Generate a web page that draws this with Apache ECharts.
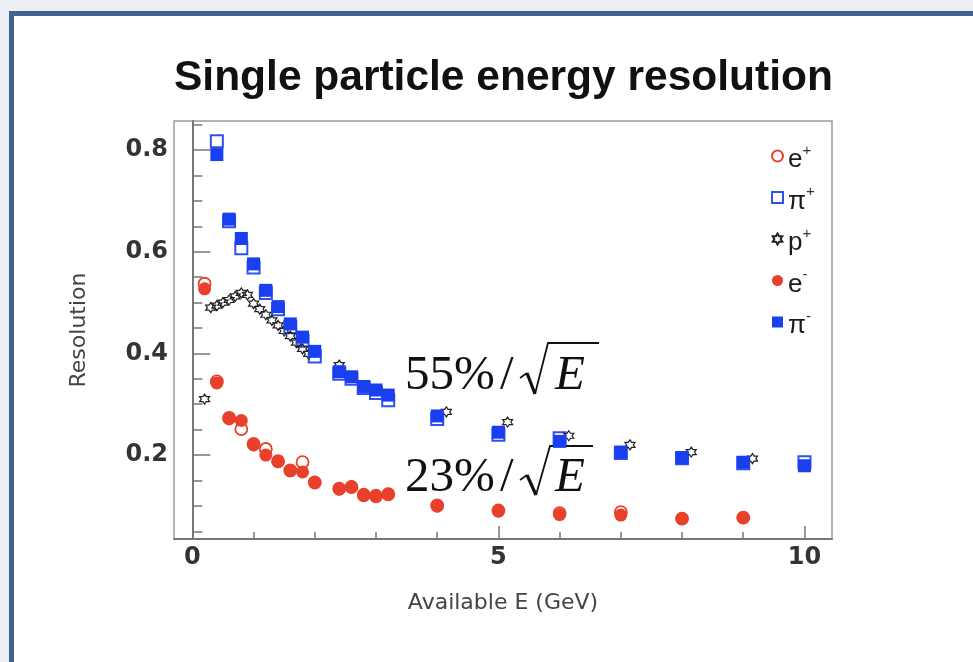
<!DOCTYPE html>
<html>
<head>
<meta charset="utf-8">
<script src="https://cdn.jsdelivr.net/npm/echarts@6/dist/echarts.min.js"></script>
<style>
  html, body { margin:0; padding:0; width:973px; height:662px; overflow:hidden; background:#eceef4; }
  #frame { position:absolute; left:9px; top:11px; width:1000px; height:700px; background:#fff;
           border-left:5px solid #41638f; border-top:5px solid #41638f; }
  #chart { position:absolute; left:0; top:0; width:973px; height:662px; }
</style>
</head>
<body>
<div id="frame"></div>
<div id="chart"></div>
<script>
// ---- data ----
const titleText = 'Single particle energy resolution';
const xAxisName = 'Available E (GeV)';
const yAxisName = 'Resolution';
const xTickLabels = [0, 5, 10];
const xMinorTicks = [1, 2, 3, 4, 6, 7, 8, 9];
const yTickLabels = [0.2, 0.4, 0.6, 0.8];
const yMinorTicks = [0.05, 0.1, 0.15, 0.25, 0.3, 0.35, 0.45, 0.5, 0.55, 0.65, 0.7, 0.75, 0.85];

const eX = [0.2, 0.4, 0.6, 0.8, 1.0, 1.2, 1.4, 1.6, 1.8, 2.0, 2.4, 2.6, 2.8, 3.0, 3.2, 4, 5, 6, 7, 8, 9];
const ePlusY  = [0.537, 0.345, 0.272, 0.251, 0.222, 0.212, 0.188, 0.170, 0.186, 0.146, 0.134, 0.137, 0.121, 0.119, 0.123, 0.101, 0.091, 0.086, 0.088, 0.075, 0.077];
const eMinusY = [0.527, 0.342, 0.274, 0.268, 0.220, 0.200, 0.187, 0.169, 0.167, 0.147, 0.133, 0.138, 0.123, 0.121, 0.123, 0.0995, 0.090, 0.083, 0.082, 0.075, 0.077];

const piX = [0.4, 0.6, 0.8, 1.0, 1.2, 1.4, 1.6, 1.8, 2.0, 2.4, 2.6, 2.8, 3.0, 3.2, 4, 5, 6, 7, 8, 9, 10];
const piPlusY  = [0.817, 0.660, 0.607, 0.569, 0.519, 0.487, 0.452, 0.425, 0.394, 0.360, 0.350, 0.332, 0.322, 0.308, 0.271, 0.240, 0.233, 0.204, 0.194, 0.184, 0.186];
const piMinusY = [0.791, 0.664, 0.626, 0.576, 0.524, 0.492, 0.458, 0.432, 0.404, 0.364, 0.354, 0.335, 0.328, 0.318, 0.277, 0.245, 0.227, 0.206, 0.195, 0.186, 0.179];

const pX = [0.2, 0.3, 0.4, 0.5, 0.6, 0.7, 0.8, 0.9, 1.0, 1.1, 1.2, 1.3, 1.4, 1.5, 1.6, 1.7, 1.8, 1.9, 2.4, 4.15, 5.15, 6.15, 7.15, 8.15, 9.15];
const pPlusY = [0.310, 0.490, 0.494, 0.500, 0.505, 0.512, 0.519, 0.515, 0.498, 0.487, 0.476, 0.465, 0.455, 0.444, 0.434, 0.421, 0.409, 0.399, 0.377, 0.285, 0.265, 0.238, 0.220, 0.206, 0.193];

const seriesNames = ['e+', 'π+', 'p+', 'e-', 'π-'];
const legendBase = ['e', 'π', 'p', 'e', 'π'];
const legendSup  = ['+', '+', '+', '-', '-'];

// ---- build ----
const zip = (xs, ys) => xs.map((x, i) => [x, ys[i]]);
const RED = '#e8402a', BLUE = '#1a3ff0';
const starPath = 'path://M10 0 L12.89 5 L18.66 5 L15.77 10 L18.66 15 L12.89 15 L10 20 L7.11 15 L1.34 15 L4.23 10 L1.34 5 L7.11 5 Z';

const chart = echarts.init(document.getElementById('chart'), null, { renderer: 'canvas' });

const axisLabelFont = { fontFamily: 'DejaVu Sans', fontWeight: 'bold', fontSize: 24, color: '#333' };
const X_MIN = -0.3, X_MAX = 10.45, Y_MIN = 0.035, Y_MAX = 0.857;

const option = {
  animation: false,
  backgroundColor: 'transparent',
  title: {
    text: titleText, left: 169, top: 52,
    textStyle: { fontFamily: 'Liberation Sans', fontWeight: 'bold', fontSize: 42.5, lineHeight: 43, color: '#111' }
  },
  grid: { left: 174, right: 141, top: 121, bottom: 123, show: true, borderColor: '#9a9a9a', borderWidth: 1.5, backgroundColor: 'transparent' },
  legend: {
    orient: 'vertical', left: 766, top: 134,
    itemWidth: 11, itemHeight: 11, itemGap: 7.5,
    data: seriesNames,
    formatter: function (name) {
      const i = seriesNames.indexOf(name);
      return '{t|' + legendBase[i] + '}{s|' + legendSup[i] + '}';
    },
    textStyle: {
      rich: {
        t: { fontFamily: 'Liberation Sans', fontSize: 26, color: '#1a1a1a', lineHeight: 26, padding: [8, 0, 0, 0] },
        s: { fontFamily: 'Liberation Sans', fontSize: 15, color: '#333', lineHeight: 14, verticalAlign: 'top' }
      }
    }
  },
  xAxis: [
    {
      type: 'value', min: X_MIN, max: X_MAX, position: 'bottom',
      name: xAxisName, nameLocation: 'middle', nameGap: 53,
      nameTextStyle: { fontFamily: 'DejaVu Sans', fontSize: 22, color: '#444' },
      axisLine: { show: true, lineStyle: { color: '#777', width: 2 } },
      axisTick: { show: true, inside: true, length: 13, customValues: xTickLabels, lineStyle: { color: '#777', width: 1.5 } },
      axisLabel: Object.assign({ customValues: xTickLabels, margin: 7 }, axisLabelFont),
      splitLine: { show: false }
    },
    {
      type: 'value', min: X_MIN, max: X_MAX, position: 'bottom',
      axisLine: { show: false },
      axisTick: { show: true, inside: true, length: 7, customValues: xMinorTicks, lineStyle: { color: '#777', width: 1.5 } },
      axisLabel: { show: false, customValues: xMinorTicks },
      splitLine: { show: false }
    }
  ],
  yAxis: [
    {
      type: 'value', min: Y_MIN, max: Y_MAX, position: 'left',
      name: yAxisName, nameLocation: 'middle', nameGap: 84,
      nameTextStyle: { fontFamily: 'DejaVu Sans', fontSize: 22, color: '#444' },
      axisLine: { show: true, lineStyle: { color: '#777', width: 2 } },
      axisTick: { show: true, inside: true, length: 18, customValues: yTickLabels, lineStyle: { color: '#777', width: 1.5 } },
      axisLabel: Object.assign({ customValues: yTickLabels, margin: 6, formatter: v => v.toFixed(1) }, axisLabelFont),
      splitLine: { show: false }
    },
    {
      type: 'value', min: Y_MIN, max: Y_MAX, position: 'left',
      axisLine: { show: false },
      axisTick: { show: true, inside: true, length: 10, customValues: yMinorTicks, lineStyle: { color: '#777', width: 1.5 } },
      axisLabel: { show: false, customValues: yMinorTicks },
      splitLine: { show: false }
    }
  ],
  series: [
    { name: seriesNames[0], type: 'scatter', data: zip(eX, ePlusY), symbol: 'circle', symbolSize: 12,
      itemStyle: { color: '#fff', borderColor: RED, borderWidth: 1.8, opacity: 1 } },
    { name: seriesNames[1], type: 'scatter', data: zip(piX, piPlusY), symbol: 'rect', symbolSize: 12,
      itemStyle: { color: '#fff', borderColor: '#2f52ec', borderWidth: 2, opacity: 1 } },
    { name: seriesNames[2], type: 'scatter', data: zip(pX, pPlusY), symbol: starPath, symbolSize: 10,
      itemStyle: { color: 'rgba(255,255,255,0)', borderColor: '#222', borderWidth: 1.2, opacity: 1 } },
    { name: seriesNames[3], type: 'scatter', data: zip(eX, eMinusY), symbol: 'circle', symbolSize: 13,
      itemStyle: { color: RED, opacity: 1 } },
    { name: seriesNames[4], type: 'scatter', data: zip(piX, piMinusY), symbol: 'rect', symbolSize: 13,
      itemStyle: { color: BLUE, opacity: 1 } }
  ],
  graphic: [
    // 55% / sqrt(E)
    { type: 'text', style: { text: '55%', x: 405, y: 376, font: '49px "Liberation Serif"', fill: '#111', verticalAlign: 'middle', textVerticalAlign: 'middle' } },
    { type: 'text', style: { text: '/', x: 500, y: 376, font: '49px "Liberation Serif"', fill: '#111', verticalAlign: 'middle', textVerticalAlign: 'middle' } },
    { type: 'polyline', shape: { points: [[520, 378], [527, 373]] }, style: { stroke: '#111', lineWidth: 1.6, fill: null } },
    { type: 'polyline', shape: { points: [[527, 373], [535, 394]] }, style: { stroke: '#111', lineWidth: 3.2, fill: null } },
    { type: 'polyline', shape: { points: [[535, 394], [548, 343], [599, 343]] }, style: { stroke: '#111', lineWidth: 1.8, fill: null } },
    { type: 'text', style: { text: 'E', x: 555, y: 376, font: 'italic 49px "Liberation Serif"', fill: '#111', verticalAlign: 'middle', textVerticalAlign: 'middle' } },
    // 23% / sqrt(E)
    { type: 'text', style: { text: '23%', x: 405, y: 478, font: '49px "Liberation Serif"', fill: '#111', verticalAlign: 'middle', textVerticalAlign: 'middle' } },
    { type: 'text', style: { text: '/', x: 500, y: 478, font: '49px "Liberation Serif"', fill: '#111', verticalAlign: 'middle', textVerticalAlign: 'middle' } },
    { type: 'polyline', shape: { points: [[520, 480], [527, 475]] }, style: { stroke: '#111', lineWidth: 1.6, fill: null } },
    { type: 'polyline', shape: { points: [[527, 475], [536, 495]] }, style: { stroke: '#111', lineWidth: 3.2, fill: null } },
    { type: 'polyline', shape: { points: [[536, 495], [550, 446], [593, 446]] }, style: { stroke: '#111', lineWidth: 1.8, fill: null } },
    { type: 'text', style: { text: 'E', x: 555, y: 478, font: 'italic 49px "Liberation Serif"', fill: '#111', verticalAlign: 'middle', textVerticalAlign: 'middle' } }
  ]
};
chart.setOption(option);
</script>
</body>
</html>
